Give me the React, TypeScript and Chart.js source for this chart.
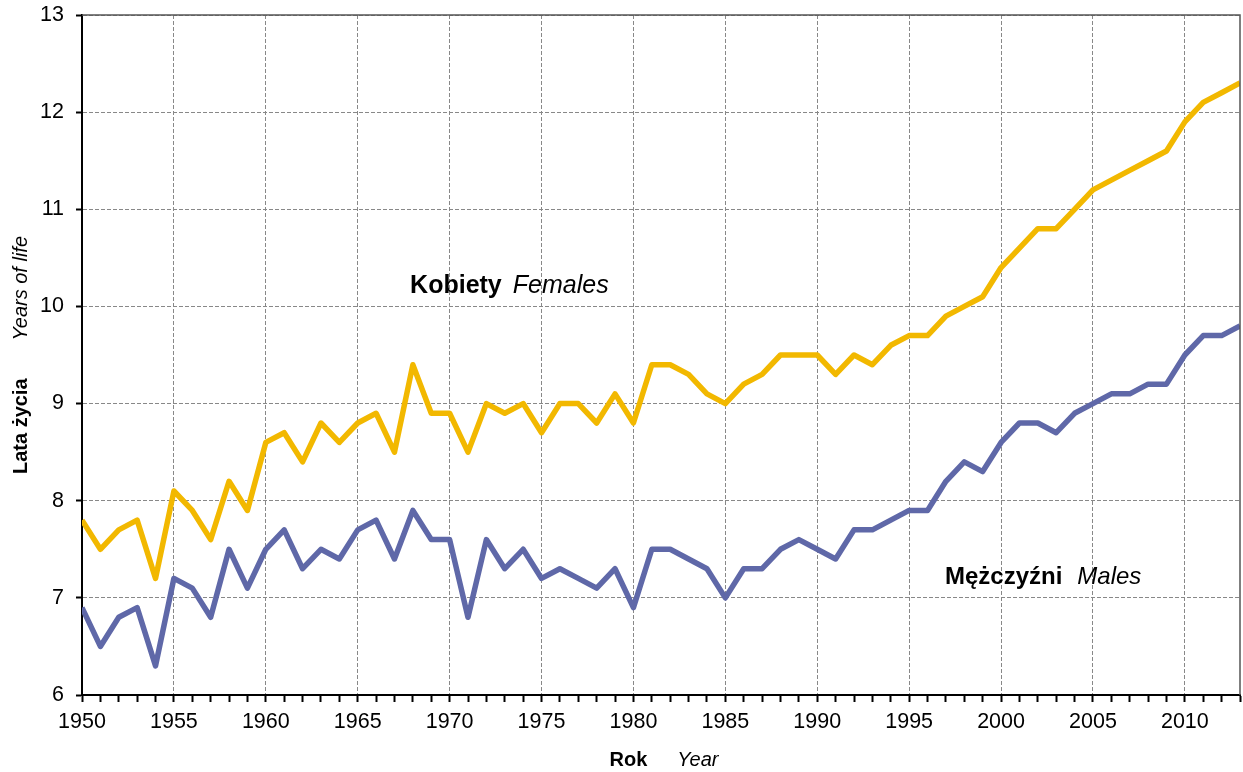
import React, { useEffect, useRef } from "react";
import { Chart, registerables } from "chart.js";

Chart.register(...registerables);

const years = [
  1950, 1951, 1952, 1953, 1954, 1955, 1956, 1957, 1958, 1959,
  1960, 1961, 1962, 1963, 1964, 1965, 1966, 1967, 1968, 1969,
  1970, 1971, 1972, 1973, 1974, 1975, 1976, 1977, 1978, 1979,
  1980, 1981, 1982, 1983, 1984, 1985, 1986, 1987, 1988, 1989,
  1990, 1991, 1992, 1993, 1994, 1995, 1996, 1997, 1998, 1999,
  2000, 2001, 2002, 2003, 2004, 2005, 2006, 2007, 2008, 2009,
  2010, 2011, 2012, 2013,
];

const females = [
  7.8, 7.5, 7.7, 7.8, 7.2, 8.1, 7.9, 7.6, 8.2, 7.9,
  8.6, 8.7, 8.4, 8.8, 8.6, 8.8, 8.9, 8.5, 9.4, 8.9,
  8.9, 8.5, 9.0, 8.9, 9.0, 8.7, 9.0, 9.0, 8.8, 9.1,
  8.8, 9.4, 9.4, 9.3, 9.1, 9.0, 9.2, 9.3, 9.5, 9.5,
  9.5, 9.3, 9.5, 9.4, 9.6, 9.7, 9.7, 9.9, 10.0, 10.1,
  10.4, 10.6, 10.8, 10.8, 11.0, 11.2, 11.3, 11.4, 11.5, 11.6,
  11.9, 12.1, 12.2, 12.3,
];

const males = [
  6.9, 6.5, 6.8, 6.9, 6.3, 7.2, 7.1, 6.8, 7.5, 7.1,
  7.5, 7.7, 7.3, 7.5, 7.4, 7.7, 7.8, 7.4, 7.9, 7.6,
  7.6, 6.8, 7.6, 7.3, 7.5, 7.2, 7.3, 7.2, 7.1, 7.3,
  6.9, 7.5, 7.5, 7.4, 7.3, 7.0, 7.3, 7.3, 7.5, 7.6,
  7.5, 7.4, 7.7, 7.7, 7.8, 7.9, 7.9, 8.2, 8.4, 8.3,
  8.6, 8.8, 8.8, 8.7, 8.9, 9.0, 9.1, 9.1, 9.2, 9.2,
  9.5, 9.7, 9.7, 9.8,
];

const xLabelYears = [1950, 1955, 1960, 1965, 1970, 1975, 1980, 1985, 1990, 1995, 2000, 2005, 2010];
const yTicks = [6, 7, 8, 9, 10, 11, 12, 13];

const femalesLabel = ["Kobiety", "Females"];
const malesLabel = ["Mężczyźni", "Males"];
const xTitle = ["Rok", "Year"];
const yTitle = ["Lata życia", "Years of life"];

// annotation anchors in data units (year, value)
const femalesAnchor = [1967.85, 10.14];
const malesAnchor = [1996.95, 7.14];

const FONT = "'Liberation Sans', Arial, Helvetica, sans-serif";
const YELLOW = "#F2B800";
const BLUE = "#5F68A8";

function drawPair(ctx: CanvasRenderingContext2D, x: number, y: number, a: string, b: string, size: number, gap: number, align: "left" | "center") {
  const fa = `bold ${size}px ${FONT}`;
  const fb = `italic ${size}px ${FONT}`;
  ctx.font = fa;
  const wa = ctx.measureText(a).width;
  ctx.font = fb;
  const wb = ctx.measureText(b).width;
  let start = x;
  if (align === "center") start = x - (wa + gap + wb) / 2;
  ctx.textAlign = "left";
  ctx.textBaseline = "alphabetic";
  ctx.fillStyle = "#000";
  ctx.font = fa;
  ctx.fillText(a, start, y);
  ctx.font = fb;
  ctx.fillText(b, start + wa + gap, y);
}

const decorPlugin = {
  id: "decor",
  afterDraw(chart: any) {
    const { ctx, chartArea } = chart;
    const xs = chart.scales.x;
    const ys = chart.scales.y;
    ctx.save();
    ctx.strokeStyle = "#555";
    ctx.lineWidth = 1.5;
    ctx.setLineDash([]);
    ctx.beginPath();
    ctx.moveTo(chartArea.left, chartArea.top);
    ctx.lineTo(chartArea.right, chartArea.top);
    ctx.lineTo(chartArea.right, chartArea.bottom);
    ctx.stroke();

    drawPair(ctx, xs.getPixelForValue(femalesAnchor[0]), ys.getPixelForValue(femalesAnchor[1]), femalesLabel[0], femalesLabel[1], 25, 11, "left");
    drawPair(ctx, xs.getPixelForValue(malesAnchor[0]), ys.getPixelForValue(malesAnchor[1]), malesLabel[0], malesLabel[1], 24, 15, "left");

    drawPair(ctx, (chartArea.left + chartArea.right) / 2 + 3, 766, xTitle[0], xTitle[1], 20, 30, "center");

    ctx.translate(27, (chartArea.top + chartArea.bottom) / 2);
    ctx.rotate(-Math.PI / 2);
    drawPair(ctx, 0, 0, yTitle[0], yTitle[1], 20, 38, "center");
    ctx.restore();
  },
};

export default function App() {
  const ref = useRef<HTMLCanvasElement | null>(null);

  useEffect(() => {
    if (!ref.current) return;
    const chart = new Chart(ref.current, {
      type: "line",
      data: {
        datasets: [
          {
            label: "Kobiety Females",
            data: years.map((yr, i) => ({ x: yr, y: females[i] })),
            borderColor: YELLOW,
            backgroundColor: YELLOW,
            borderWidth: 5.5,
            pointRadius: 0,
            tension: 0,
            borderJoinStyle: "round",
            borderCapStyle: "butt",
          },
          {
            label: "Mężczyźni Males",
            data: years.map((yr, i) => ({ x: yr, y: males[i] })),
            borderColor: BLUE,
            backgroundColor: BLUE,
            borderWidth: 5.5,
            pointRadius: 0,
            tension: 0,
            borderJoinStyle: "round",
            borderCapStyle: "butt",
          },
        ],
      },
      options: {
        animation: false,
        responsive: true,
        maintainAspectRatio: false,
        layout: { padding: { top: 15, right: 3, left: 0, bottom: 0 } },
        plugins: {
          legend: { display: false },
          tooltip: { enabled: false },
          title: { display: false },
        },
        scales: {
          x: {
            type: "linear",
            min: years[0],
            max: years[years.length - 1],
            afterBuildTicks: (scale: any) => {
              scale.ticks = years.map((v) => ({ value: v }));
            },
            afterFit: (scale: any) => {
              scale.height = 77;
              scale.paddingLeft = 0;
              scale.paddingRight = 0;
            },
            ticks: {
              autoSkip: false,
              maxRotation: 0,
              padding: 7,
              color: "#000",
              font: { family: FONT, size: 21.5 },
              callback: (v: any) => (xLabelYears.includes(Number(v)) ? String(v) : ""),
            },
            grid: {
              color: (c: any) => (c.tick && xLabelYears.includes(c.tick.value) ? "#888" : "rgba(0,0,0,0)"),
              lineWidth: 1,
              tickLength: 7,
              tickColor: "#000",
              tickWidth: 2,
            },
            border: { display: true, color: "#000", width: 2, dash: [4, 2] },
          },
          y: {
            type: "linear",
            min: yTicks[0],
            max: yTicks[yTicks.length - 1],
            afterBuildTicks: (scale: any) => {
              scale.ticks = yTicks.map((v) => ({ value: v }));
            },
            afterFit: (scale: any) => {
              scale.width = 82;
              scale.paddingTop = 0;
              scale.paddingBottom = 0;
            },
            ticks: {
              padding: 12,
              color: "#000",
              font: { family: FONT, size: 21.5 },
            },
            grid: {
              color: "#888",
              lineWidth: 1,
              tickLength: 6,
              tickColor: "#000",
              tickWidth: 2,
            },
            border: { display: true, color: "#000", width: 2, dash: [4, 2] },
          },
        },
      },
      plugins: [decorPlugin],
    });
    return () => chart.destroy();
  }, []);

  return (
    <div style={{ position: "absolute", left: 0, top: 0, width: 1243, height: 772, background: "#fff" }}>
      <canvas ref={ref} />
    </div>
  );
}
